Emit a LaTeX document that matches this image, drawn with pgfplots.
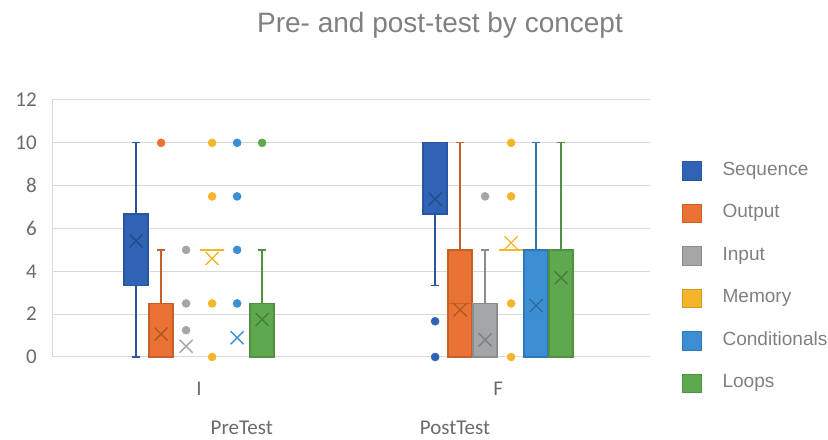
\documentclass[border=0pt]{standalone}
\usepackage{fontspec}
\setmainfont{Carlito}
\newfontfamily\arial{Liberation Sans}
\usepackage{pgfplots}
\pgfplotsset{compat=1.18}
\usepgfplotslibrary{statistics}

\definecolor{seq}{HTML}{2E63B6}
\definecolor{seqD}{HTML}{2A559E}
\definecolor{out}{HTML}{E97234}
\definecolor{outD}{HTML}{C95F28}
\definecolor{inp}{HTML}{A3A5A6}
\definecolor{inpD}{HTML}{8A8C8D}
\definecolor{mem}{HTML}{F3B52B}
\definecolor{memD}{HTML}{D49B1E}
\definecolor{con}{HTML}{3B8ED2}
\definecolor{conD}{HTML}{2E78B6}
\definecolor{loo}{HTML}{5EA94D}
\definecolor{looD}{HTML}{4E9140}
\definecolor{gridgray}{HTML}{D9D9D9}
\definecolor{tickgray}{HTML}{6B6B6B}
\definecolor{titlegray}{HTML}{808080}

% box / whisker sizes in x units (one category = 1)
\pgfplotsset{
  bx/.style={forget plot, line width=1pt, solid, mark=none,
    boxplot/draw direction=y,
    boxplot/box extend=0.08, boxplot/whisker extend=0.025},
  outl/.style={forget plot, only marks, mark=*, mark size=3pt,
    mark options={draw=#1, fill=#1}},
  meanx/.style={forget plot, only marks, mark=x, mark size=6.9pt,
    mark options={draw=#1, line width=1pt}},
}

\begin{document}
\begin{tikzpicture}
\path[use as bounding box] (0,0) rectangle (621pt,329.25pt);
\node[anchor=base, font=\arial\fontsize{21}{25}\selectfont, text=titlegray]
  at (330pt,304.5pt) {Pre- and post-test by concept};

\begin{axis}[
  at={(39pt,61.5pt)}, anchor=south west, scale only axis,
  width=448.5pt, height=192.75pt,
  xmin=-0.492, xmax=1.508, ymin=0, ymax=12,
  xtick={0,1}, xticklabels={I,F}, ytick={0,2,...,12},
  ymajorgrids, grid style={draw=gridgray, line width=0.75pt},
  axis x line*=bottom, axis y line*=left,
  axis line style={draw=gridgray, line width=0.75pt, -},
  major tick length=0pt,
  tick label style={font=\fontsize{15.75}{18}\selectfont, text=tickgray},
  /pgf/number format/assume math mode=true,
  yticklabel style={inner sep=0pt, anchor=east, xshift=-11.25pt},
  xticklabel style={inner sep=0pt, anchor=north, yshift=-18.5pt},
  clip=false,
  legend style={at={(1.0535,0.7626)}, anchor=north west, draw=none, fill=none,
    inner sep=0pt, outer sep=0pt, row sep=17.5pt, column sep=15.75pt,
    font=\arial\fontsize{14.3}{17}\selectfont, text=titlegray,
    nodes={inner sep=0pt, text height=10.5pt, text depth=3.5pt}},
  legend cell align=left,
  legend image code/.code={\draw[#1] (0pt,-7pt) rectangle (14.25pt,7pt);},
]

% ---- PreTest (x = 0)
\addplot[bx, draw=seqD, fill=seq, boxplot prepared={lower whisker=0, lower quartile=3.33,
  median=6.67, upper quartile=6.67, upper whisker=10, draw position=-0.2107}] coordinates {};
\addplot[bx, draw=outD, fill=out, boxplot prepared={lower whisker=0, lower quartile=0,
  median=0, upper quartile=2.5, upper whisker=5, draw position=-0.1271}] coordinates {};
\addplot[bx, draw=mem, fill=mem, boxplot prepared={lower whisker=5, lower quartile=5,
  median=5, upper quartile=5, upper whisker=5, draw position=0.0435}] coordinates {};
\addplot[bx, draw=looD, fill=loo, boxplot prepared={lower whisker=0, lower quartile=0,
  median=0, upper quartile=2.5, upper whisker=5, draw position=0.2107}] coordinates {};

% ---- PostTest (x = 1)
\addplot[bx, draw=seqD, fill=seq, boxplot prepared={lower whisker=3.33, lower quartile=6.67,
  median=10, upper quartile=10, upper whisker=10, draw position=0.7893}] coordinates {};
\addplot[bx, draw=outD, fill=out, boxplot prepared={lower whisker=0, lower quartile=0,
  median=2.5, upper quartile=5, upper whisker=10, draw position=0.8729}] coordinates {};
\addplot[bx, draw=inpD, fill=inp, boxplot prepared={lower whisker=0, lower quartile=0,
  median=0, upper quartile=2.5, upper whisker=5, draw position=0.9565}] coordinates {};
\addplot[bx, draw=mem, fill=mem, boxplot prepared={lower whisker=5, lower quartile=5,
  median=5, upper quartile=5, upper whisker=5, draw position=1.0435}] coordinates {};
\addplot[bx, draw=conD, fill=con, boxplot prepared={lower whisker=0, lower quartile=0,
  median=0, upper quartile=5, upper whisker=10, draw position=1.1271}] coordinates {};
\addplot[bx, draw=looD, fill=loo, boxplot prepared={lower whisker=0, lower quartile=0,
  median=0, upper quartile=5, upper whisker=10, draw position=1.2107}] coordinates {};

% ---- outliers
\addplot[outl=seq] coordinates {(0.7893,1.67) (0.7893,0)};
\addplot[outl=out] coordinates {(-0.1271,10)};
\addplot[outl=inp] coordinates {(-0.0435,5) (-0.0435,2.5) (-0.0435,1.25) (0.9565,7.5)};
\addplot[outl=mem] coordinates {(0.0435,10) (0.0435,7.5) (0.0435,2.5) (0.0435,0)
  (1.0435,10) (1.0435,7.5) (1.0435,2.5) (1.0435,0)};
\addplot[outl=con] coordinates {(0.1271,10) (0.1271,7.5) (0.1271,5) (0.1271,2.5)};
\addplot[outl=loo] coordinates {(0.2107,10)};

% ---- means
\addplot[meanx=seq!75!black] coordinates {(-0.2107,5.42) (0.7893,7.37)};
\addplot[meanx=out!75!black] coordinates {(-0.1271,1.07) (0.8729,2.2)};
\addplot[meanx=inp] coordinates {(-0.0435,0.5)};
\addplot[meanx=inp!75!black] coordinates {(0.9565,0.8)};
\addplot[meanx=mem] coordinates {(0.0435,4.6) (1.0435,5.33)};
\addplot[meanx=con] coordinates {(0.1271,0.9)};
\addplot[meanx=con!75!black] coordinates {(1.1271,2.4)};
\addplot[meanx=loo!75!black] coordinates {(0.2107,1.75) (1.2107,3.7)};

\addlegendimage{draw=seqD, fill=seq}\addlegendentry{Sequence}
\addlegendimage{draw=outD, fill=out}\addlegendentry{Output}
\addlegendimage{draw=inpD, fill=inp}\addlegendentry{Input}
\addlegendimage{draw=memD, fill=mem}\addlegendentry{Memory}
\addlegendimage{draw=conD, fill=con}\addlegendentry{Conditionals}
\addlegendimage{draw=looD, fill=loo}\addlegendentry{Loops}
\end{axis}

\node[anchor=base, font=\fontsize{15.75}{18}\selectfont, text=tickgray] at (181.3pt,3.75pt) {PreTest};
\node[anchor=base, font=\fontsize{15.75}{18}\selectfont, text=tickgray] at (341.25pt,3.75pt) {PostTest};
\end{tikzpicture}
\end{document}
